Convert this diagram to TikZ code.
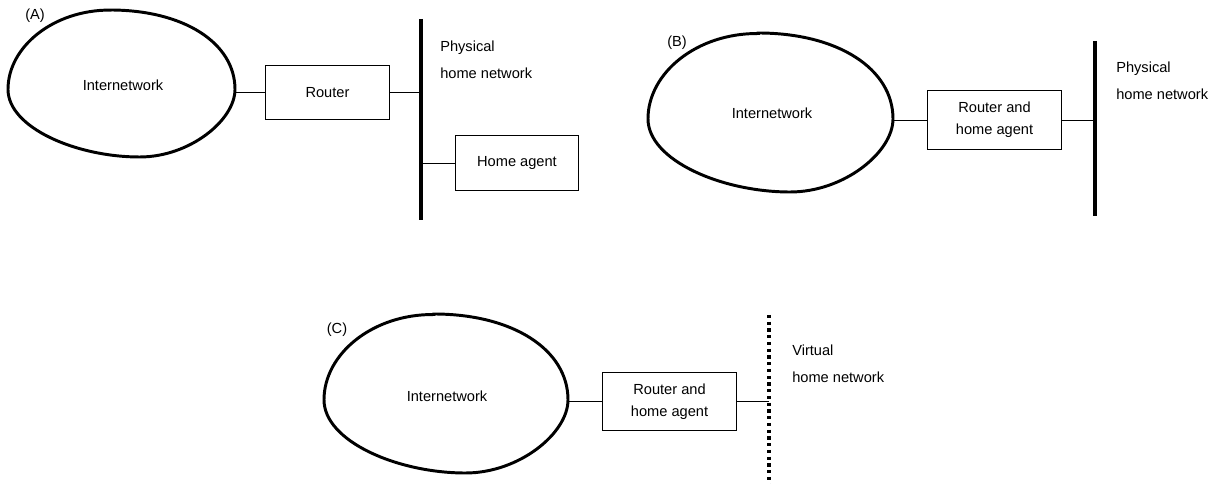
\documentclass[tikz,border=0pt]{standalone}
\usepackage{fontspec}
\setmainfont{Liberation Sans}

\begin{document}
\begin{tikzpicture}[
        x=0.025cm, y=-0.025cm,
        every node/.style={font=\fontsize{10.4}{15.6}\selectfont},
        box/.style={rectangle, draw, line width=0.7pt, minimum width=3.08cm, minimum height=1.37cm, align=center},
        widebox/.style={box, minimum width=3.33cm, minimum height=1.46cm},
        netlabel/.style={anchor=north west, inner sep=0pt, align=left, font=\fontsize{10.4}{19}\selectfont},
        wire/.style={line width=0.7pt},
        bus/.style={line width=2.2pt},
        vbus/.style={line width=2.4pt, dash pattern=on 2.2pt off 2.6pt},
        blob/.pic={
            \draw[line width=2.1pt] (-0.1,-1) .. controls (0.55,-1) and (1,-0.55) .. (1,0.08)
                .. controls (1,0.5) and (0.6,1) .. (0.16,1)
                .. controls (-0.4,1) and (-1,0.6) .. (-1,0.08)
                .. controls (-1,-0.5) and (-0.6,-1) .. cycle;
            \coordinate (-east) at (1,0.08);
        }
    ]
        \useasboundingbox (0,0) rectangle (1231,484);

        % (A): router and separate home agent on a physical network
        \node (labA) at (35,16) {(A)};
        \pic[xscale=113.5, yscale=73.5] (blobA) at (121.5,83.5) {blob};
        \node (netA) at (123,85) {Internetwork};
        \node[box] (routerA) at (327.5,92.5) {Router};
        \node[box] (agentA) at (517,163) {Home agent};
        \coordinate (busAtop) at (421,19);
        \coordinate (busAbot) at (421,220);
        \draw[bus] (busAtop) -- (busAbot);
        \draw[wire] (routerA.west) -- (routerA.west -| blobA-east);
        \draw[wire] (routerA.east) -- (routerA.east -| busAtop);
        \draw[wire] (agentA.west) -- (agentA.west -| busAtop);
        \node[netlabel] (physA) at (440,41) {Physical\\home network};

        % (B): router is the home agent
        \node (labB) at (677,43) {(B)};
        \pic[xscale=122.5, yscale=79.5] (blobB) at (770.5,112.5) {blob};
        \node (netB) at (772,113) {Internetwork};
        \node[widebox] (routerB) at (994.5,120) {Router and\\home agent};
        \coordinate (busBtop) at (1095,41);
        \coordinate (busBbot) at (1095,216);
        \draw[bus] (busBtop) -- (busBbot);
        \draw[wire] (routerB.west) -- (routerB.west -| blobB-east);
        \draw[wire] (routerB.east) -- (routerB.east -| busBtop);
        \node[netlabel] (physB) at (1116,62) {Physical\\home network};

        % (C): virtual home network
        \node (labC) at (337,330) {(C)};
        \pic[xscale=122, yscale=79.5] (blobC) at (446,393.5) {blob};
        \node (netC) at (447,396) {Internetwork};
        \node[widebox] (routerC) at (669.5,401.5) {Router and\\home agent};
        \coordinate (busCtop) at (769,315);
        \coordinate (busCbot) at (769,484);
        \draw[vbus] (busCtop) -- (busCbot);
        \draw[wire] (routerC.west) -- (routerC.west -| blobC-east);
        \draw[wire] (routerC.east) -- (routerC.east -| busCtop);
        \node[netlabel] (virtC) at (792,345) {Virtual\\home network};

    \end{tikzpicture}
\end{document}
